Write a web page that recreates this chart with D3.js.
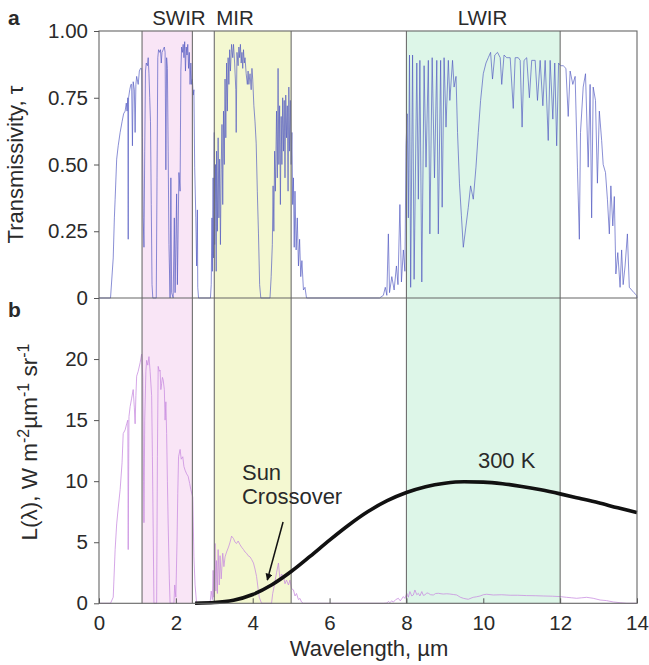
<!DOCTYPE html>
<html>
<head>
<meta charset="utf-8">
<script src="https://cdn.jsdelivr.net/npm/d3@7"></script>
<style>
  body { margin: 0; background: #fff; }
  svg text { font-family: "Liberation Sans", Arial, sans-serif; fill: #2a2a2a; }
  .tick line { stroke: #555; }
  .tick text { font-size: 20.5px; }
</style>
</head>
<body>
<div id="chart"></div>
<script>
// wavelength ticks (µm) and value ticks
const wavelengthTicks = [0, 2, 4, 6, 8, 10, 12, 14];
const tauTicks = [0, 0.25, 0.5, 0.75, 1];
const radianceTicks = [0, 5, 10, 15, 20];

// spectral bands, µm
const bands = [
  { name: 'SWIR', from: 1.12, to: 2.43 },
  { name: 'MIR', from: 3.0, to: 5.0 },
  { name: 'LWIR', from: 8.0, to: 12.0 }
];

// atmospheric transmissivity, [wavelength, tau]
const tauVisSwir = [
  [0.30,0],[0.37,0.15],[0.40,0.30],[0.42,0.37],[0.46,0.52],[0.50,0.57],[0.55,0.62],[0.60,0.66],[0.64,0.69],
  [0.68,0.70],[0.71,0.73],[0.73,0.70],[0.75,0.75],[0.76,0.22],[0.77,0.75],[0.80,0.78],[0.83,0.80],[0.85,0.80],
  [0.87,0.57],[0.89,0.81],[0.92,0.78],[0.94,0.62],[0.96,0.80],[0.98,0.83],[1.02,0.80],[1.05,0.85],[1.08,0.86],
  [1.11,0.86],[1.13,0.60],[1.15,0.30],[1.17,0.19],[1.19,0.55],[1.21,0.85],[1.23,0.88],[1.26,0.87],[1.28,0.90],
  [1.30,0.84],[1.32,0.75],[1.34,0.66],[1.36,0.35],[1.38,0.05],[1.40,0],[1.49,0],[1.51,0.45],[1.53,0.90],
  [1.55,0.93],[1.58,0.92],[1.60,0.93],[1.62,0.88],[1.64,0.92],[1.67,0.93],[1.70,0.94],[1.72,0.92],[1.74,0.48],
  [1.76,0.90],[1.78,0.86],[1.80,0.55],[1.82,0.20],[1.85,0],[1.87,0.45],[1.89,0.02],[1.93,0],[1.96,0.30],
  [1.98,0.02],[2.02,0.39],[2.04,0.05],[2.08,0.47],[2.11,0.40],[2.13,0.85],[2.15,0.94],[2.17,0.92],[2.19,0.95],
  [2.21,0.90],[2.23,0.96],[2.25,0.85],[2.27,0.94],[2.29,0.91],[2.31,0.95],[2.33,0.86],[2.35,0.92],[2.37,0.80],
  [2.39,0.88],[2.41,0.80],[2.43,0.82],[2.45,0.76],[2.47,0.78],[2.49,0.49],[2.52,0.30],[2.54,0.12],[2.56,0.33],
  [2.57,0.04],[2.59,0]
];
const tauMir = [
  [2.90,0],[2.92,0.05],[2.94,0.30],[2.95,0.10],[2.97,0.45],[2.98,0.15],[3.00,0.62],[3.01,0.20],[3.03,0.50],
  [3.05,0.10],[3.06,0.55],[3.08,0.25],[3.10,0.60],[3.12,0.30],[3.14,0.52],[3.16,0.20],[3.18,0.48],[3.20,0.65],
  [3.22,0.35],[3.24,0.70],[3.26,0.50],[3.28,0.82],[3.30,0.60],[3.32,0.88],[3.34,0.70],[3.36,0.90],[3.38,0.80],
  [3.40,0.93],[3.42,0.85],[3.45,0.95],[3.48,0.90],[3.50,0.95],[3.53,0.88],[3.56,0.78],[3.57,0.62],[3.59,0.92],
  [3.62,0.87],[3.64,0.94],[3.66,0.90],[3.68,0.95],[3.70,0.88],[3.72,0.92],[3.74,0.86],[3.76,0.93],[3.78,0.88],
  [3.80,0.90],[3.83,0.84],[3.86,0.80],[3.88,0.85],[3.90,0.80],[3.93,0.84],[3.96,0.78],[3.98,0.86],[4.00,0.82],
  [4.03,0.72],[4.06,0.66],[4.09,0.58],[4.12,0.40],[4.15,0.24],[4.18,0.05],[4.21,0],[4.45,0],[4.48,0.08],
  [4.51,0.20],[4.53,0.42],[4.55,0.25],[4.57,0.55],[4.59,0.40],[4.62,0.70],[4.64,0.45],[4.66,0.86],[4.68,0.50],
  [4.70,0.72],[4.72,0.35],[4.74,0.68],[4.76,0.50],[4.78,0.75],[4.80,0.55],[4.82,0.74],[4.84,0.45],[4.86,0.76],
  [4.88,0.60],[4.90,0.72],[4.92,0.40],[4.94,0.79],[4.96,0.55],[4.98,0.74],[5.00,0.50],[5.02,0.62],[5.04,0.35],
  [5.06,0.45],[5.08,0.19],[5.10,0.40],[5.13,0.18],[5.16,0.30],[5.19,0.12],[5.22,0.22],[5.25,0.08],[5.28,0.14],
  [5.32,0.03],[5.36,0.04],[5.40,0]
];
const tauLwir = [
  [7.30,0],[7.40,0.01],[7.45,0.04],[7.49,0.01],[7.53,0.24],[7.56,0.02],[7.62,0.08],[7.68,0.03],[7.74,0.12],
  [7.78,0.05],[7.83,0.35],[7.87,0.06],[7.92,0.18],[7.96,0.10],[7.99,0.57],[8.02,0.69],[8.05,0.30],[8.08,0.91],
  [8.11,0.04],[8.16,0.91],[8.20,0.07],[8.27,0.88],[8.31,0.37],[8.35,0.89],[8.40,0.06],[8.46,0.87],[8.51,0.49],
  [8.57,0.89],[8.61,0.24],[8.67,0.90],[8.73,0.45],[8.79,0.89],[8.83,0.24],[8.89,0.89],[8.93,0.34],[8.98,0.90],
  [9.03,0.64],[9.09,0.89],[9.13,0.74],[9.20,0.89],[9.24,0.79],[9.29,0.83],[9.33,0.62],[9.38,0.43],[9.43,0.31],
  [9.48,0.19],[9.55,0.27],[9.61,0.34],[9.67,0.42],[9.74,0.37],[9.81,0.49],[9.87,0.62],[9.93,0.74],[10.00,0.84],
  [10.07,0.88],[10.13,0.90],[10.19,0.92],[10.24,0.82],[10.30,0.91],[10.37,0.92],[10.44,0.90],[10.48,0.80],
  [10.54,0.91],[10.61,0.90],[10.70,0.90],[10.78,0.71],[10.83,0.90],[10.91,0.90],[10.96,0.89],[11.01,0.64],
  [11.06,0.89],[11.13,0.90],[11.20,0.75],[11.26,0.89],[11.35,0.89],[11.41,0.74],[11.48,0.89],[11.55,0.72],
  [11.61,0.89],[11.69,0.59],[11.74,0.89],[11.81,0.67],[11.86,0.88],[11.91,0.57],[11.96,0.88],[12.01,0.87],
  [12.08,0.87],[12.15,0.86],[12.21,0.68],[12.26,0.85],[12.33,0.80],[12.39,0.83],[12.45,0.49],[12.50,0.22],
  [12.53,0.62],[12.60,0.79],[12.66,0.84],[12.73,0.49],[12.78,0.80],[12.82,0.30],[12.86,0.79],[12.92,0.74],
  [12.97,0.43],[13.02,0.70],[13.08,0.59],[13.12,0.50],[13.18,0.47],[13.23,0.37],[13.28,0.24],[13.32,0.42],
  [13.37,0.27],[13.41,0.38],[13.45,0.09],[13.50,0.17],[13.56,0.04],[13.60,0.18],[13.64,0.05],[13.69,0.12],
  [13.75,0.24],[13.80,0.04],[13.86,0.03],[13.92,0.02],[13.99,0.01],[14.00,0]
];

// solar radiance at ground, [wavelength, L]
const sunVisSwir = [
  [0.30,0],[0.37,0.5],[0.42,4.4],[0.46,6.5],[0.50,7.8],[0.55,9.3],[0.60,11.5],[0.63,13.9],[0.68,14.2],
  [0.72,14.7],[0.75,15.0],[0.76,4.4],[0.78,15.3],[0.81,16.1],[0.85,16.8],[0.89,17.5],[0.92,16.0],[0.94,14.7],
  [0.96,17.0],[0.98,18.6],[1.02,19.0],[1.07,19.7],[1.11,20.4],[1.14,18.5],[1.16,10.0],[1.17,6.6],[1.19,15.0],
  [1.22,19.0],[1.24,19.9],[1.27,19.5],[1.30,20.2],[1.33,19.0],[1.37,17.0],[1.39,12.0],[1.41,6.0],[1.43,0],
  [1.50,0],[1.52,12.0],[1.54,19.4],[1.57,19.0],[1.59,19.1],[1.61,17.5],[1.63,18.0],[1.65,18.5],[1.67,18.3],
  [1.70,17.5],[1.72,15.0],[1.74,16.5],[1.76,13.9],[1.78,10.0],[1.80,6.5],[1.83,2.0],[1.85,0],[1.95,0],
  [1.97,1.5],[2.00,0.5],[2.03,5.0],[2.05,9.0],[2.07,12.0],[2.11,12.6],[2.14,11.8],[2.18,12.0],[2.21,11.2],
  [2.24,10.9],[2.28,10.6],[2.32,10.4],[2.36,9.8],[2.39,9.3],[2.44,8.7],[2.47,3.8],[2.50,1.5],[2.54,0]
];
const sunMir = [
  [2.89,0],[2.92,1.0],[2.95,0.3],[2.97,2.7],[2.99,0.5],[3.02,4.9],[3.04,1.0],[3.06,3.5],[3.08,0.8],[3.10,4.4],
  [3.13,1.5],[3.15,3.9],[3.18,2.0],[3.22,4.1],[3.25,3.0],[3.28,3.8],[3.32,4.2],[3.37,4.6],[3.41,5.0],[3.45,5.5],
  [3.50,5.3],[3.54,5.0],[3.58,4.9],[3.62,5.1],[3.67,4.8],[3.71,4.6],[3.76,4.4],[3.80,4.2],[3.84,4.1],[3.88,3.9],
  [3.93,3.8],[3.97,3.6],[4.02,3.3],[4.06,2.8],[4.10,2.2],[4.14,1.2],[4.17,0.5],[4.23,0],[4.49,0],[4.52,0.8],
  [4.54,1.1],[4.58,1.8],[4.62,2.5],[4.67,3.3],[4.71,1.9],[4.75,2.4],[4.80,2.2],[4.84,1.6],[4.88,1.9],[4.93,1.5],
  [4.97,1.9],[5.01,1.2],[5.06,1.1],[5.10,0.6],[5.14,0.8],[5.19,0.3],[5.23,0.4],[5.27,0.1],[5.32,0]
];
const sunLwir = [
  [7.40,0],[7.49,0.02],[7.53,0.15],[7.57,0.05],[7.62,0.2],[7.66,0.1],[7.72,0.3],[7.79,0.41],[7.84,0.2],
  [7.92,0.55],[7.96,0.4],[8.01,0.82],[8.05,0.5],[8.09,0.96],[8.14,0.6],[8.18,0.68],[8.22,1.09],[8.27,0.7],
  [8.31,0.82],[8.35,0.6],[8.40,0.96],[8.44,0.65],[8.48,0.68],[8.53,0.85],[8.57,0.82],[8.63,0.7],[8.70,0.68],
  [8.76,0.80],[8.83,0.82],[8.90,0.78],[8.96,0.76],[9.05,0.78],[9.13,0.76],[9.22,0.72],[9.31,0.68],[9.40,0.50],
  [9.48,0.41],[9.55,0.36],[9.61,0.33],[9.68,0.42],[9.74,0.49],[9.82,0.53],[9.92,0.60],[10.00,0.70],[10.09,0.74],
  [10.26,0.68],[10.48,0.70],[10.70,0.66],[10.90,0.66],[11.13,0.63],[11.35,0.62],[11.56,0.60],[11.80,0.58],
  [12.00,0.55],[12.17,0.49],[12.30,0.45],[12.43,0.41],[12.56,0.45],[12.69,0.49],[12.86,0.41],[13.04,0.27],
  [13.21,0.22],[13.38,0.11],[13.56,0.05],[13.73,0],[14.00,0]
];

// 300 K blackbody radiance, [wavelength, L]
const blackbody300K = [
  [2.5,0.01],[3.0,0.06],[3.5,0.25],[4.0,0.72],[4.5,1.52],[5.0,2.60],[5.5,3.86],[6.0,5.17],[6.5,6.41],
  [7.0,7.51],[7.5,8.40],[8.0,9.07],[8.5,9.55],[9.0,9.83],[9.5,9.95],[10.0,9.92],[10.5,9.79],[11.0,9.57],
  [11.5,9.29],[12.0,8.96],[12.5,8.60],[13.0,8.23],[13.5,7.82],[14.0,7.44]
];

class SpectrumChart {

  constructor(_config) {
    this.config = {
      parentElement: _config.parentElement,
      containerWidth: 649,
      containerHeight: 665,
      left: 99, right: 637,
      topA: 31, bottomA: 298,
      bottomB: 603.3
    };
    this.bandFill = { SWIR: '#f9e5f6', MIR: '#f4f8d1', LWIR: '#ddf6e8' };
    this.bandLabelAt = { SWIR: 2.08, MIR: 3.54, LWIR: 9.98 };
    this.initVis();
  }

  initVis() {
    let vis = this;
    const c = vis.config;

    vis.svg = d3.select(c.parentElement).append('svg')
      .attr('width', c.containerWidth)
      .attr('height', c.containerHeight);

    vis.xScale = d3.scaleLinear().domain([0, 14]).range([c.left, c.right]);
    vis.tauScale = d3.scaleLinear().domain([0, 1]).range([c.bottomA, c.topA]);
    vis.radScale = d3.scaleLinear().domain([0, 25]).range([c.bottomB, c.bottomA]);

    vis.renderVis();
  }

  renderVis() {
    let vis = this;
    const c = vis.config;
    const x = vis.xScale;

    // band backgrounds across both panels
    vis.svg.selectAll('.band')
      .data(bands)
      .join('rect')
      .attr('class', 'band')
      .attr('x', d => x(d.from))
      .attr('width', d => x(d.to) - x(d.from))
      .attr('y', c.topA)
      .attr('height', c.bottomB - c.topA)
      .attr('fill', d => vis.bandFill[d.name]);

    // spectra
    const tauLine = d3.line().x(d => x(d[0])).y(d => vis.tauScale(d[1]));
    const radLine = d3.line().x(d => x(d[0])).y(d => vis.radScale(d[1]));

    vis.svg.append('path')
      .datum([[0, 0]].concat(tauVisSwir, tauMir, tauLwir))
      .attr('d', tauLine)
      .attr('fill', 'none')
      .attr('stroke', '#5058c0')
      .attr('stroke-opacity', 0.75)
      .attr('stroke-width', 0.9);

    vis.svg.append('path')
      .datum([[0, 0]].concat(sunVisSwir, sunMir, sunLwir))
      .attr('d', radLine)
      .attr('fill', 'none')
      .attr('stroke', '#c88be0')
      .attr('stroke-opacity', 0.85)
      .attr('stroke-width', 0.9);

    // band edges
    const edges = bands.flatMap(d => [d.from, d.to]);
    vis.svg.selectAll('.edge')
      .data(edges)
      .join('line')
      .attr('class', 'edge')
      .attr('x1', d => x(d)).attr('x2', d => x(d))
      .attr('y1', c.topA).attr('y2', c.bottomB)
      .attr('stroke', '#6e6e6e')
      .attr('stroke-width', 1.1);

    // 300 K curve
    vis.svg.append('path')
      .datum(blackbody300K)
      .attr('d', radLine.curve(d3.curveMonotoneX))
      .attr('fill', 'none')
      .attr('stroke', '#111')
      .attr('stroke-width', 3.6);

    // frames
    vis.svg.append('rect')
      .attr('x', c.left).attr('y', c.topA)
      .attr('width', c.right - c.left).attr('height', c.bottomB - c.topA)
      .attr('fill', 'none').attr('stroke', '#666').attr('stroke-width', 1.1);
    vis.svg.append('line')
      .attr('x1', c.left).attr('x2', c.right)
      .attr('y1', c.bottomA).attr('y2', c.bottomA)
      .attr('stroke', '#666').attr('stroke-width', 1.1);

    // axes
    const tauAxis = d3.axisLeft(vis.tauScale)
      .tickValues(tauTicks)
      .tickFormat(d => d === 0 ? '0' : d3.format('.2f')(d))
      .tickSize(5).tickPadding(6);
    const radAxis = d3.axisLeft(vis.radScale)
      .tickValues(radianceTicks)
      .tickSize(5).tickPadding(6);
    const xAxis = d3.axisBottom(x)
      .tickValues(wavelengthTicks)
      .tickSize(-5).tickPadding(12);

    vis.svg.append('g').attr('transform', `translate(${c.left},0)`).call(tauAxis);
    vis.svg.append('g').attr('transform', `translate(${c.left},0)`).call(radAxis);
    vis.svg.append('g').attr('transform', `translate(0,${c.bottomB})`).call(xAxis);
    vis.svg.selectAll('.domain').remove();
    vis.svg.selectAll('.tick text').attr('fill', '#2a2a2a').attr('font-family', null);

    // band labels
    vis.svg.selectAll('.band-label')
      .data(bands)
      .join('text')
      .attr('class', 'band-label')
      .attr('x', d => x(vis.bandLabelAt[d.name]))
      .attr('y', 25)
      .attr('text-anchor', 'middle')
      .style('font-size', '20.5px')
      .text(d => d.name);

    // panel letters
    vis.svg.append('text').attr('x', 8).attr('y', 25)
      .style('font-size', '21px').style('font-weight', 'bold').text('a');
    vis.svg.append('text').attr('x', 8).attr('y', 317)
      .style('font-size', '21px').style('font-weight', 'bold').text('b');

    // axis titles
    vis.svg.append('text')
      .attr('transform', `translate(23,${(c.topA + c.bottomA) / 2}) rotate(-90)`)
      .attr('text-anchor', 'middle')
      .style('font-size', '22px')
      .text('Transmissivity, τ');

    const ylab = vis.svg.append('text')
      .attr('transform', `translate(37,442) rotate(-90)`)
      .attr('text-anchor', 'middle')
      .style('font-size', '22.5px');
    ylab.append('tspan').text('L(λ), W m');
    ylab.append('tspan').attr('dy', -8).style('font-size', '16px').text('-2');
    ylab.append('tspan').attr('dy', 8).text('µm');
    ylab.append('tspan').attr('dy', -8).style('font-size', '16px').text('-1');
    ylab.append('tspan').attr('dy', 8).text(' sr');
    ylab.append('tspan').attr('dy', -8).style('font-size', '16px').text('-1');

    vis.svg.append('text')
      .attr('x', (c.left + c.right) / 2 + 1)
      .attr('y', 656)
      .attr('text-anchor', 'middle')
      .style('font-size', '22px')
      .text('Wavelength, µm');

    // annotations
    vis.svg.append('text').attr('x', x(3.72)).attr('y', vis.radScale(10.1))
      .style('font-size', '22px').text('Sun');
    vis.svg.append('text').attr('x', x(3.72)).attr('y', vis.radScale(8.14))
      .style('font-size', '22px').text('Crossover');
    vis.svg.append('text').attr('x', x(9.86)).attr('y', vis.radScale(11.09))
      .style('font-size', '22px').text('300 K');

    vis.svg.append('defs').append('marker')
      .attr('id', 'head')
      .attr('viewBox', '0 0 10 10')
      .attr('refX', 9).attr('refY', 5)
      .attr('markerWidth', 7).attr('markerHeight', 7)
      .attr('markerUnits', 'userSpaceOnUse')
      .attr('orient', 'auto')
      .append('path').attr('d', 'M0,0L10,5L0,10Z').attr('fill', '#111');
    vis.svg.append('line')
      .attr('x1', x(4.79)).attr('y1', vis.radScale(6.66))
      .attr('x2', x(4.38)).attr('y2', vis.radScale(1.91))
      .attr('stroke', '#111').attr('stroke-width', 1.5)
      .attr('marker-end', 'url(#head)');
  }
}

new SpectrumChart({ parentElement: '#chart' });
</script>
</body>
</html>
